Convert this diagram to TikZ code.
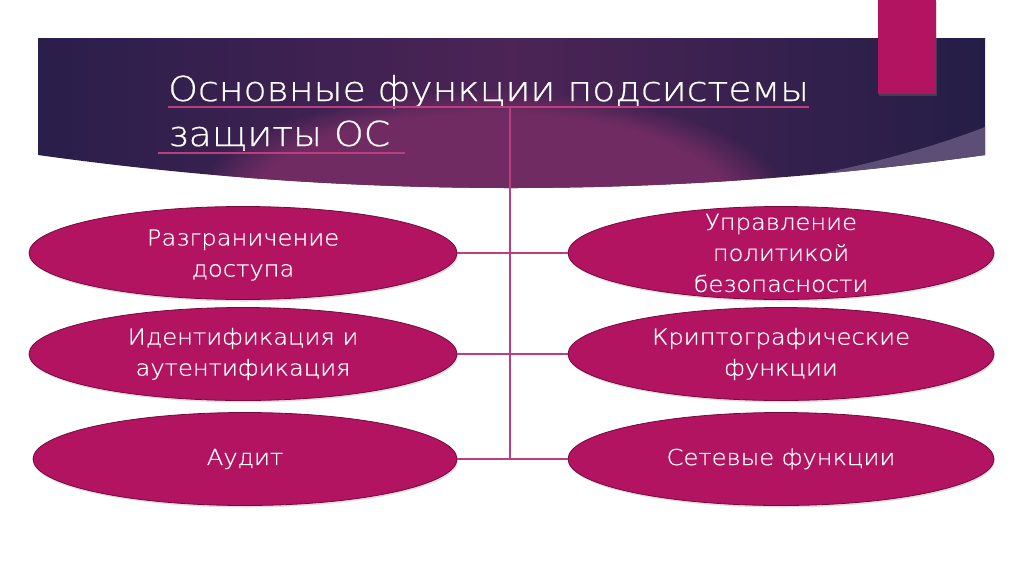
\documentclass[tikz,border=0pt]{standalone}
\usepackage{fontspec}
\setmainfont{DejaVu Sans}
\newfontfamily\gothic[FakeStretch=1.1,FakeBold=0.6]{DejaVu Sans ExtraLight}
\usetikzlibrary{shapes.geometric,positioning,shadows,fadings}

\definecolor{bannerleft}{RGB}{42,30,74}
\definecolor{bannermid}{RGB}{76,36,86}
\definecolor{bannerright}{RGB}{36,30,70}
\definecolor{bannerglow}{RGB}{112,44,98}
\definecolor{wedge}{RGB}{92,78,116}
\definecolor{berry}{RGB}{178,20,97}
\definecolor{berryline}{RGB}{118,10,60}
\definecolor{linkcol}{RGB}{186,62,128}

\begin{document}
\begin{tikzpicture}[
        x=1pt, y=-1pt,
        func/.style={ellipse, draw=berryline, line width=.8pt, fill=berry,
            minimum width=428pt, minimum height=93pt, inner sep=0pt,
            drop shadow={opacity=.25, shadow xshift=1pt, shadow yshift=-2pt}},
        functext/.style={text=white, align=center, font=\gothic\fontsize{22}{31}\selectfont},
        titletext/.style={text=white, anchor=base west, inner sep=0pt, font=\gothic\fontsize{34.4}{40}\selectfont},
        link/.style={draw=linkcol, line width=1.1pt}
    ]
    \useasboundingbox (0,0) rectangle (1024,574);

    % Banner
    \path[left color=bannerleft, right color=bannerright, middle color=bannermid]
        (38,38) -- (985,38) -- (985,155) .. controls (669,199) and (353,199) .. (38,155) -- cycle;
    \begin{scope}
        \clip (38,38) -- (985,38) -- (985,155) .. controls (669,199) and (353,199) .. (38,155) -- cycle;
        \fill[bannerglow, path fading=circle with fuzzy edge 20 percent] (490,205) ellipse (300 and 115);
        \fill[wedge] (985,127) .. controls (900,160) and (800,180) .. (700,195) -- (1000,210) -- (1000,127) -- cycle;
    \end{scope}
    \fill[berry, drop shadow={opacity=.3, shadow xshift=1pt, shadow yshift=-2pt}] (878,0) rectangle (936,94);

    % Title
    \node[titletext] (title1) at (168,101) {Основные функции подсистемы};
    \node[titletext] (title2) at (168,146) {защиты ОС};
    \draw[link] ([yshift=-6pt]title1.base west) -- ([yshift=-6pt]title1.base east);
    \draw[link] ([xshift=-10pt,yshift=-7pt]title2.base west) -- ([xshift=15pt,yshift=-7pt]title2.base east);

    % Nodes
    \node[func, label={[functext,yshift=-2pt]center:Разграничение\\доступа}] (access) at (243,253) {};
    \node[func, label={[functext]center:Идентификация и\\аутентификация}] (ident) at (243,354) {};
    \node[func, minimum width=424pt, label={[functext]center:Аудит}] (audit) at (245,459) {};
    \node[func, minimum width=426pt, label={[functext]center:Управление\\политикой\\безопасности}] (policy) at (781,253) {};
    \node[func, minimum width=426pt, label={[functext]center:Криптографические\\функции}] (crypto) at (781,354) {};
    \node[func, minimum width=426pt, label={[functext]center:Сетевые функции}] (network) at (781,459) {};

    % Edges
    \coordinate (trunk) at (510,107);
    \draw[link] (trunk) -- (trunk |- audit);
    \draw[link] (access) -- (policy);
    \draw[link] (ident) -- (crypto);
    \draw[link] (audit) -- (network);
\end{tikzpicture}
\end{document}
